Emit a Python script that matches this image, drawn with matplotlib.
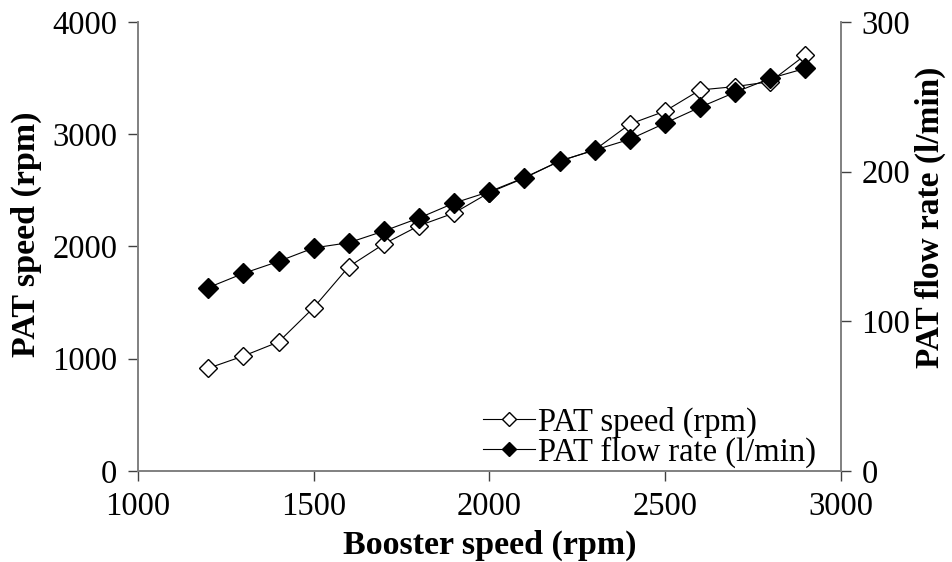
import matplotlib
matplotlib.use("Agg")
import matplotlib.pyplot as plt

# booster speed (rpm)
booster = [1200, 1300, 1400, 1500, 1600, 1700, 1800, 1900, 2000,
           2100, 2200, 2300, 2400, 2500, 2600, 2700, 2800, 2900]
# PAT speed (rpm), left axis
pat_speed = [915, 1024, 1149, 1455, 1820, 2022, 2185, 2298, 2480,
             2610, 2760, 2860, 3090, 3205, 3394, 3424, 3468, 3706]
# PAT flow rate (l/min), right axis
pat_flow = [122.5, 132, 140, 149, 152.5, 160.3, 169, 179, 186.6,
            196, 207, 214.4, 221.6, 232.3, 243, 253, 262.3, 269]

plt.rcParams["font.family"] = ["Liberation Serif", "DejaVu Serif"]

fig = plt.figure(figsize=(9.52, 5.62), dpi=100)
ax = fig.add_axes([0.145, 0.162, 0.738, 0.799])
ax2 = ax.twinx()

l1, = ax.plot(booster, pat_speed, color="black", lw=0.8, marker="D", ms=9,
              mfc="white", mec="black", mew=1.0, label="PAT speed (rpm)")
l2, = ax2.plot(booster, pat_flow, color="black", lw=0.8, marker="D", ms=10,
               mfc="black", mec="black", label="PAT flow rate (l/min)")

ax.set_xlim(1000, 3000)
ax.set_ylim(0, 4000)
ax2.set_ylim(0, 300)
ax.set_xticks([1000, 1500, 2000, 2500, 3000])
ax.set_yticks([0, 1000, 2000, 3000, 4000])
ax2.set_yticks([0, 100, 200, 300])

for a in (ax, ax2):
    a.spines["top"].set_visible(False)
    for s in a.spines.values():
        s.set_color("#808080")
        s.set_linewidth(1.2)
    a.tick_params(direction="out", length=7, width=1, color="#404040",
                  labelcolor="black", labelsize=23.5, pad=8)

ax.set_xlabel("Booster speed (rpm)", fontsize=24.5, fontweight="bold")
ax.set_ylabel("PAT speed (rpm)", fontsize=24.5, fontweight="bold")
ax2.set_ylabel("PAT flow rate (l/min)", fontsize=24, fontweight="bold")
ax.xaxis.set_label_coords(0.5, -0.13)
ax.yaxis.set_label_coords(-0.136, 0.528)
ax2.yaxis.set_label_coords(1.106, 0.565)

ax.legend([l1, l2], [l1.get_label(), l2.get_label()], loc="lower right",
          bbox_to_anchor=(0.97, 0.0), frameon=False, fontsize=23.5,
          handlelength=1.6, handletextpad=0.1, labelspacing=-0.05,
          borderaxespad=0.1, borderpad=0.0, markerscale=0.75)

fig.savefig("out.png", dpi=100)
plt.close(fig)
